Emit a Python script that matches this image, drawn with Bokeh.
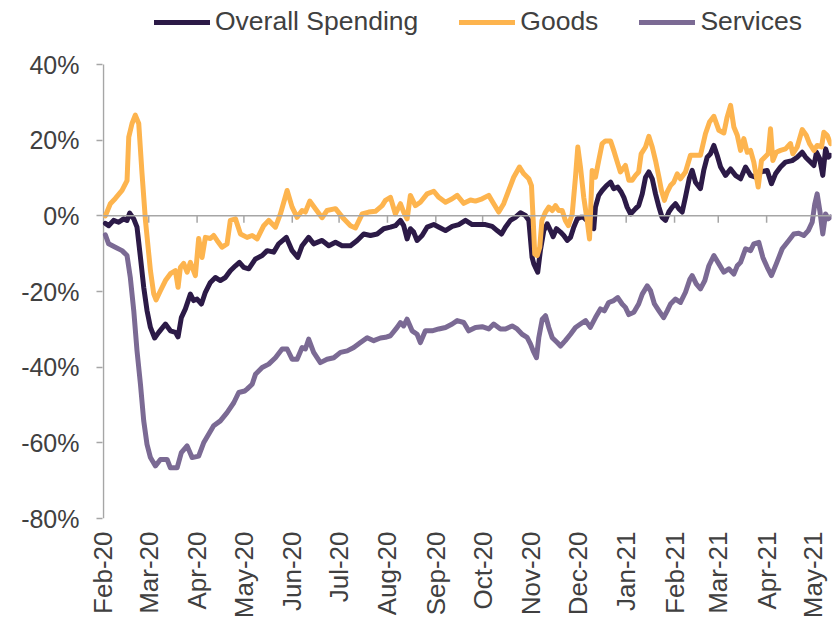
import numpy as np
import pandas as pd
from bokeh.plotting import figure
from bokeh.models import FixedTicker, Span, Legend, LegendItem, Range1d
from bokeh.embed import file_html
from bokeh.resources import INLINE

START = pd.Timestamp("2020-02-01")
END = pd.Timestamp("2021-05-12 14:00")

month_labels = ["Feb-20", "Mar-20", "Apr-20", "May-20", "Jun-20", "Jul-20", "Aug-20",
                "Sep-20", "Oct-20", "Nov-20", "Dec-20", "Jan-21", "Feb-21", "Mar-21",
                "Apr-21", "May-21"]
y_ticks = [-80, -60, -40, -20, 0, 20, 40]
y_labels = ["-80%", "-60%", "-40%", "-20%", "0%", "20%", "40%"]
series_names = ["Overall Spending", "Goods", "Services"]

# days since 2020-02-01, value in %
overall_day = [1.2, 3.3, 6.5, 9.7, 12.9, 15.1, 16.8, 19.4, 21.5, 23.7, 25.8, 27.9, 30.1, 32.8,
               35.4, 39.7, 42.9, 46.1, 47.8, 49.9, 52.5, 55.7, 57.8, 60, 62.8, 65.3, 68.5,
               71.7, 74.9, 78.1, 81.3, 84.6, 87.1, 89.9, 93.1, 97.4, 101.7, 104.9, 109.1,
               112.3, 117.2, 120.9, 124.5, 127.3, 131.5, 134.7, 140.1, 144.4, 148.7, 152.9,
               158.3, 162.6, 166.8, 171.1, 175.4, 179.6, 183.9, 187.1, 190.3, 192.4, 194.6,
               196.7, 198.8, 201, 204.2, 207.4, 211.7, 216, 219.2, 223.5, 227.7, 232, 236.3,
               240.5, 244.8, 249.1, 252.3, 255.1, 257.6, 260.8, 264, 267.2, 270.4, 272.6,
               274.7, 275.8, 278.3, 280, 282.2, 284.4, 286.5, 288.2, 290.3, 292.9, 295,
               297.2, 299.3, 301.4, 303.6, 305.7, 307.8, 311, 314.2, 315.3, 317.4, 319.6,
               322.4, 325, 327, 329.6, 331.8, 333.5, 335.6, 337.8, 341, 343, 345.3, 347.4,
               349.5, 351.7, 353.8, 356, 358, 360.2, 362.3, 364.5, 366.6, 368.7, 370.9, 373,
               375.5, 377.3, 379.4, 382.6, 384.7, 386.9, 389, 391.2, 393.3, 395.5, 398.7,
               401.9, 405, 408.3, 411.5, 414.7, 417.9, 421.1, 425.4, 428.1, 430.7, 433.9,
               437.1, 441.4, 444.6, 447.8, 450, 453.1, 455.3, 457, 459, 461, 462.8, 464.5, 466]
overall_val = [-2.0, -2.6, -1.2, -1.7, -0.8, -1.2, 0.7, -0.8, -3.0, -11.0, -18.9, -25.0, -29.5,
               -32.3, -30.8, -28.6, -30.4, -30.8, -32.0, -26.9, -24.6, -20.7, -22.4, -22.0,
               -23.3, -20.2, -17.6, -16.3, -17.1, -16.3, -14.5, -13.2, -12.3, -13.6, -14.0,
               -11.4, -10.5, -9.2, -9.6, -7.4, -5.7, -9.2, -11.0, -7.9, -5.7, -7.4, -6.5,
               -7.9, -7.0, -7.9, -7.9, -6.5, -4.8, -5.2, -4.8, -3.4, -3.0, -2.6, -1.2, -2.6,
               -6.1, -3.4, -4.3, -6.5, -5.2, -3.0, -2.3, -3.2, -3.9, -2.8, -2.3, -1.2, -2.3,
               -2.3, -2.3, -2.8, -3.9, -4.8, -3.0, -1.2, -0.4, 0.8, 0.1, -1.2, -11.0, -12.7,
               -14.9, -9.2, -3.9, -2.1, -3.9, -5.5, -3.4, -4.3, -5.2, -6.5, -5.7, -3.0, -0.8,
               -0.4, -0.4, -1.7, -3.4, 2.3, 5.4, 6.7, 8.0, 8.9, 7.2, 7.6, 6.3, 4.9, 2.3, 0.5,
               1.9, 2.7, 5.8, 10.2, 11.6, 9.8, 5.8, 2.3, -0.4, -1.2, 1.0, 2.3, 3.2, 1.9, 1.0,
               5.0, 10.0, 12.0, 8.9, 7.2, 12.0, 15.5, 16.4, 18.6, 16.0, 12.9, 10.7, 12.4,
               10.7, 9.8, 12.9, 10.7, 10.2, 11.6, 12.0, 8.5, 11.1, 12.9, 14.2, 14.6, 15.5,
               16.8, 15.5, 14.2, 13.3, 16.8, 15.1, 10.7, 17.7, 15.5, 16.0]

goods_day = [1.2, 4.4, 7.6, 11.9, 15.1, 16.2, 18.3, 20.4, 22.6, 24.7, 26.9, 30.1, 32.2, 33.7,
             36.5, 39.7, 42.9, 46.1, 47.8, 49.3, 51.4, 53.6, 55.7, 58.9, 61, 63.2, 65.3, 68.5,
             70.6, 72.8, 76, 79.2, 81.3, 84.6, 87.8, 92, 95.3, 98.5, 102.7, 105.9, 110.2,
             113.4, 117.7, 120.9, 124.1, 127.3, 129.4, 132.2, 135.8, 140.1, 143.3, 148.7, 154,
             158.3, 161.5, 165.8, 170, 174.3, 178.6, 180.7, 183.9, 187.1, 190.3, 192.4, 194.6,
             196.7, 199.9, 203.1, 207.4, 211.7, 214.9, 219.2, 223.5, 226.7, 230.9, 235.2,
             238.4, 242.7, 246.9, 250.1, 253.3, 256.5, 259.7, 262.9, 266.6, 269.4, 272.6,
             274.3, 275.4, 276.4, 278, 279.6, 281, 283.3, 285.4, 287.6, 289.7, 291.8, 294, 296,
             298, 300.4, 302.5, 304, 305.7, 307.8, 310, 311.5, 313.2, 315.3, 317.4, 319.6,
             321.7, 325, 327, 329.6, 331.3, 334.5, 336.7, 338.8, 341, 343, 344.6, 347.4, 349.5,
             351.7, 353.8, 356, 357.6, 359.5, 361.3, 363.4, 365.5, 367.7, 369.8, 373, 376.2,
             379.4, 382.6, 385.8, 388.4, 391.2, 394.4, 397.6, 399.7, 401.9, 404, 406.2, 408.3,
             410.4, 412.6, 414.7, 416.8, 419.6, 421.7, 423.8, 426, 427.5, 429, 431.2, 433.9,
             437.1, 440.3, 441.8, 444.6, 447.8, 450.4, 452.5, 455.3, 457.4, 460.2, 461.7,
             463.8, 466]
goods_val = [0.0, 3.2, 4.6, 6.7, 9.3, 20.8, 24.4, 26.6, 24.4, 11.2, -1.2, -14.5, -20.6, -22.2,
             -19.8, -17.1, -15.3, -14.5, -18.9, -13.6, -12.6, -14.9, -12.3, -15.8, -6.0, -11.0,
             -5.7, -6.0, -5.2, -6.5, -8.3, -7.4, -1.2, -0.8, -4.8, -5.7, -5.2, -6.1, -2.6, -1.2,
             -3.0, 0.5, 6.7, 2.3, -0.4, 1.4, 1.0, 3.9, 1.9, -0.5, 1.4, 1.9, -0.8, -2.6, -3.2,
             0.5, 1.0, 1.2, 2.7, 4.1, 4.9, 0.5, 3.2, 1.0, -0.8, 5.4, 2.7, 3.6, 5.8, 6.5, 4.9,
             3.6, 4.5, 5.4, 3.3, 4.2, 3.9, 4.5, 5.4, 3.2, 1.0, 3.2, 6.7, 10.2, 12.9, 11.1, 9.8,
             8.0, -1.2, -10.1, -10.5, -8.3, -1.2, 1.0, 2.3, 1.4, 2.7, 1.4, 1.4, -1.2, -2.6, 0.5,
             10.2, 18.2, 12.9, 4.9, -1.2, -6.1, 12.0, 10.2, 14.6, 19.1, 19.8, 19.8, 17.3, 13.8,
             11.6, 13.3, 9.4, 9.4, 10.7, 11.6, 16.4, 18.2, 21.0, 18.2, 14.6, 10.2, 6.7, 4.1,
             6.3, 8.0, 8.9, 11.1, 9.8, 11.6, 16.0, 16.0, 16.0, 21.7, 24.8, 26.3, 22.6, 21.9,
             26.1, 29.2, 23.5, 21.3, 17.3, 20.4, 16.8, 17.3, 14.2, 7.6, 14.6, 15.5, 16.4, 23.0,
             14.6, 16.8, 17.3, 17.7, 19.1, 16.4, 18.2, 22.8, 21.3, 19.1, 17.3, 18.6, 18.2,
             22.1, 21.3, 19.1]

services_day = [1.2, 3.3, 7.6, 11.9, 15.1, 17.2, 19.4, 21.5, 23.7, 25.8, 27.9, 30.1, 33.3, 36.5,
                40.8, 42.9, 47.2, 49.9, 53.6, 56.8, 61, 64.2, 67.4, 70.6, 74.9, 79.2, 83.5,
                86.7, 90.5, 92, 95.3, 97.4, 101.7, 105.9, 110.2, 114.5, 117.7, 120.9, 124.1,
                127.3, 129.4, 131.5, 134.7, 139, 143.3, 147.6, 151.9, 156.2, 160.4, 164.7, 169,
                173.2, 177.5, 180.7, 183.9, 188.2, 190.3, 192.4, 194.6, 197.8, 201, 203.1,
                206.3, 210.6, 214.9, 219.2, 223.5, 226.7, 230.9, 234.1, 238.4, 242.7, 246.9,
                250.1, 254.4, 257.6, 261.9, 265.1, 268.3, 271.5, 273.7, 275.4, 277.5, 279,
                281.2, 283.3, 285.4, 287.6, 290.8, 292.9, 296, 299.3, 302.5, 305.7, 309, 312,
                315.3, 318.5, 321, 323.8, 327, 329.6, 332.4, 334.5, 336.7, 339.9, 343, 345.3,
                348.5, 350.6, 353.1, 356, 359, 361.3, 363.4, 366.6, 369.8, 373, 375.8, 377.3,
                379.9, 382.6, 385.4, 388, 391.2, 394.4, 397.6, 400.8, 404, 406.2, 408.3, 411.5,
                414.7, 416.8, 420, 422.6, 425.4, 428.1, 431.2, 435, 439.2, 442.4, 445.6, 448.8,
                451.7, 454.2, 455.9, 457.4, 459.1, 461, 462.8, 464.5, 466]
services_val = [-5.0, -7.4, -8.3, -9.2, -10.5, -16.3, -25.0, -35.7, -44.5, -54.2, -60.4, -63.9,
                -66.1, -64.4, -64.4, -66.6, -66.6, -62.6, -60.8, -63.9, -63.5, -60.0, -57.7,
                -55.5, -54.2, -52.0, -49.4, -46.7, -46.3, -45.8, -44.5, -41.9, -40.1, -39.2,
                -37.5, -35.2, -35.2, -37.9, -37.9, -34.8, -35.2, -32.6, -36.1, -38.8, -37.9,
                -37.5, -36.1, -35.7, -34.8, -33.5, -32.2, -33.0, -32.3, -32.1, -31.7, -29.5,
                -28.2, -29.1, -27.3, -30.4, -31.3, -33.5, -30.4, -30.4, -29.9, -29.5, -28.6,
                -27.7, -28.2, -30.4, -29.5, -29.3, -29.9, -28.6, -29.9, -29.9, -29.1, -29.9,
                -31.3, -32.1, -33.9, -35.7, -37.5, -32.2, -27.3, -26.4, -29.5, -32.2, -33.5,
                -34.4, -33.0, -31.3, -29.5, -28.6, -27.7, -29.5, -26.9, -24.6, -25.1, -22.9,
                -22.4, -21.6, -23.3, -24.2, -26.1, -25.5, -23.3, -20.7, -18.5, -19.8, -23.3,
                -25.1, -26.9, -25.1, -23.3, -22.0, -22.9, -20.2, -16.8, -15.8, -18.0, -19.3,
                -17.1, -13.2, -10.5, -12.7, -14.9, -14.0, -15.4, -13.2, -12.3, -8.7, -9.2,
                -7.4, -7.0, -11.0, -13.6, -15.8, -12.7, -8.7, -6.5, -4.8, -4.6, -5.2, -3.9,
                -1.7, 3.2, 5.8, 1.4, -4.8, 0.5, -0.8, -0.3]

colors = ["#2C1A47", "#FDB44E", "#7B6A94"]
AXIS_GRAY = "#A6A6A6"
TEXT = "#404040"
FONT = "Liberation Sans"


def to_dt(days):
    return START + pd.to_timedelta(np.asarray(days, dtype=float), unit="D")


# frame: axis part is 454 px tall (-80%..40%), plus 64 px above it for the legend
AXIS_H, LEGEND_H = 454, 64
FRAME_W = 729
px_per_unit = AXIS_H / (y_ticks[-1] - y_ticks[0])
y_top = y_ticks[-1] + LEGEND_H / px_per_unit
x_start = START - pd.Timedelta(hours=15)

p = figure(frame_width=FRAME_W, frame_height=AXIS_H + LEGEND_H, x_axis_type="datetime",
           x_range=Range1d(x_start, END), y_range=Range1d(y_ticks[0], y_top),
           output_backend="svg", toolbar_location=None,
           min_border_left=102, min_border_top=0, min_border_right=4, min_border_bottom=4)
p.grid.visible = False
p.outline_line_color = None
p.background_fill_color = "white"
p.border_fill_color = "white"

# month ticks
month_starts = pd.date_range(START, periods=len(month_labels), freq="MS")
month_ms = [int(t.value // 10**6) for t in month_starts]
p.xaxis.ticker = FixedTicker(ticks=month_ms)
p.xaxis.major_label_overrides = {m: lab for m, lab in zip(month_ms, month_labels)}
p.xaxis.major_label_orientation = np.pi / 2
p.xaxis.axis_line_color = None
p.xaxis.major_tick_line_color = None
p.xaxis.minor_tick_line_color = None
p.xaxis.major_tick_out = 0
p.xaxis.major_tick_in = 0
p.xaxis.major_label_standoff = 13
p.xaxis.major_label_text_font_size = "26px"

p.yaxis.ticker = FixedTicker(ticks=y_ticks)
p.yaxis.major_label_overrides = {t: lab for t, lab in zip(y_ticks, y_labels)}
p.yaxis.axis_line_color = None
p.yaxis.major_tick_line_color = AXIS_GRAY
p.yaxis.major_tick_line_width = 1.5
p.yaxis.major_tick_out = 6
p.yaxis.major_tick_in = 0
p.yaxis.minor_tick_line_color = None
p.yaxis.major_label_standoff = 17
p.yaxis.major_label_text_font_size = "25px"

for ax in (p.xaxis, p.yaxis):
    ax.major_label_text_font = FONT
    ax.major_label_text_color = TEXT

# vertical axis line only over the -80%..40% span
p.segment(x0=START, y0=y_ticks[0], x1=START, y1=y_ticks[-1], line_color=AXIS_GRAY, line_width=1.5)

# zero line with month tick marks hanging below it
p.add_layout(Span(location=0, dimension="width", line_color=AXIS_GRAY, line_width=1.5))
tick_len = 7 / px_per_unit
p.segment(x0=month_starts[1:], y0=0, x1=month_starts[1:], y1=-tick_len,
          line_color=AXIS_GRAY, line_width=1.5)

renderers = []
for d, v, c in [(overall_day, overall_val, colors[0]),
                (goods_day, goods_val, colors[1]),
                (services_day, services_val, colors[2])]:
    r = p.line(to_dt(d), v, line_color=c, line_width=5, line_join="round", line_cap="round")
    renderers.append(r)

legend = Legend(items=[LegendItem(label=n, renderers=[r]) for n, r in zip(series_names, renderers)],
                orientation="horizontal", location=(52, AXIS_H + LEGEND_H - 37),
                glyph_width=56, glyph_height=30, label_height=30, label_standoff=5,
                spacing=41, padding=0, margin=0, border_line_color=None,
                background_fill_alpha=0, label_text_font=FONT, label_text_font_size="26.5px",
                label_text_color=TEXT)
p.add_layout(legend)

open("out.html", "w").write(file_html(p, INLINE))
